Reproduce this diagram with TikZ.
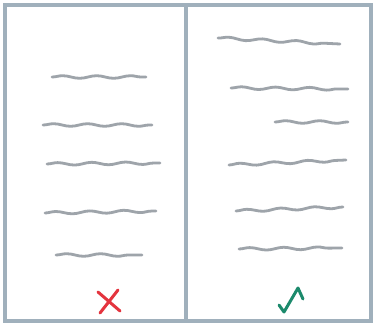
\documentclass[tikz,border=0pt]{standalone}
\usetikzlibrary{decorations.pathmorphing}

\definecolor{framegray}{RGB}{160,176,188}
\definecolor{linegray}{RGB}{158,164,170}
\definecolor{wrongred}{RGB}{228,52,62}
\definecolor{rightgreen}{RGB}{28,138,108}

\begin{document}
\begin{tikzpicture}[
  x=1pt, y=-1pt,
  panel/.style={draw=framegray, line width=3.4pt, inner sep=0pt, outer sep=0pt},
  squig/.style={draw=linegray, line width=2.8pt, line cap=round, decorate,
    decoration={snake, amplitude=1.3pt, segment length=34pt}},
  tick/.style={line width=3pt, line cap=round, line join=round}
]
\useasboundingbox (0,0) rectangle (379,331);
\fill[white] (0,0) rectangle (379,331);

% the two pages
\node[panel, minimum width=181pt, minimum height=316pt] (wrong) at (95.5,163) {};
\node[panel, minimum width=185pt, minimum height=316pt, anchor=west] (right) at (wrong.east) {};

% left page: every line centred
\draw[squig] (52,77) -- (146,77);
\draw[squig] (43,125) -- (152,125);
\draw[squig] (47,164) -- (160,163);
\draw[squig] (45,213) -- (156,211);
\draw[squig] (56,255) -- (142,255);

% right page: ragged lines
\draw[squig] (218,38) -- (340,44);
\draw[squig] (231,88) -- (348,89);
\draw[squig] (275,122) -- (348,122);
\draw[squig] (229,165) -- (346,160);
\draw[squig] (236,211) -- (343,207);
\draw[squig] (239,249) -- (342,248);

% marks
\draw[tick, draw=wrongred] (98,292) -- (120,311);
\draw[tick, draw=wrongred] (118,290) -- (100,313);
\draw[tick, draw=rightgreen] (279,305) -- (284,312) -- (298,288) -- (303,299);
\end{tikzpicture}
\end{document}
